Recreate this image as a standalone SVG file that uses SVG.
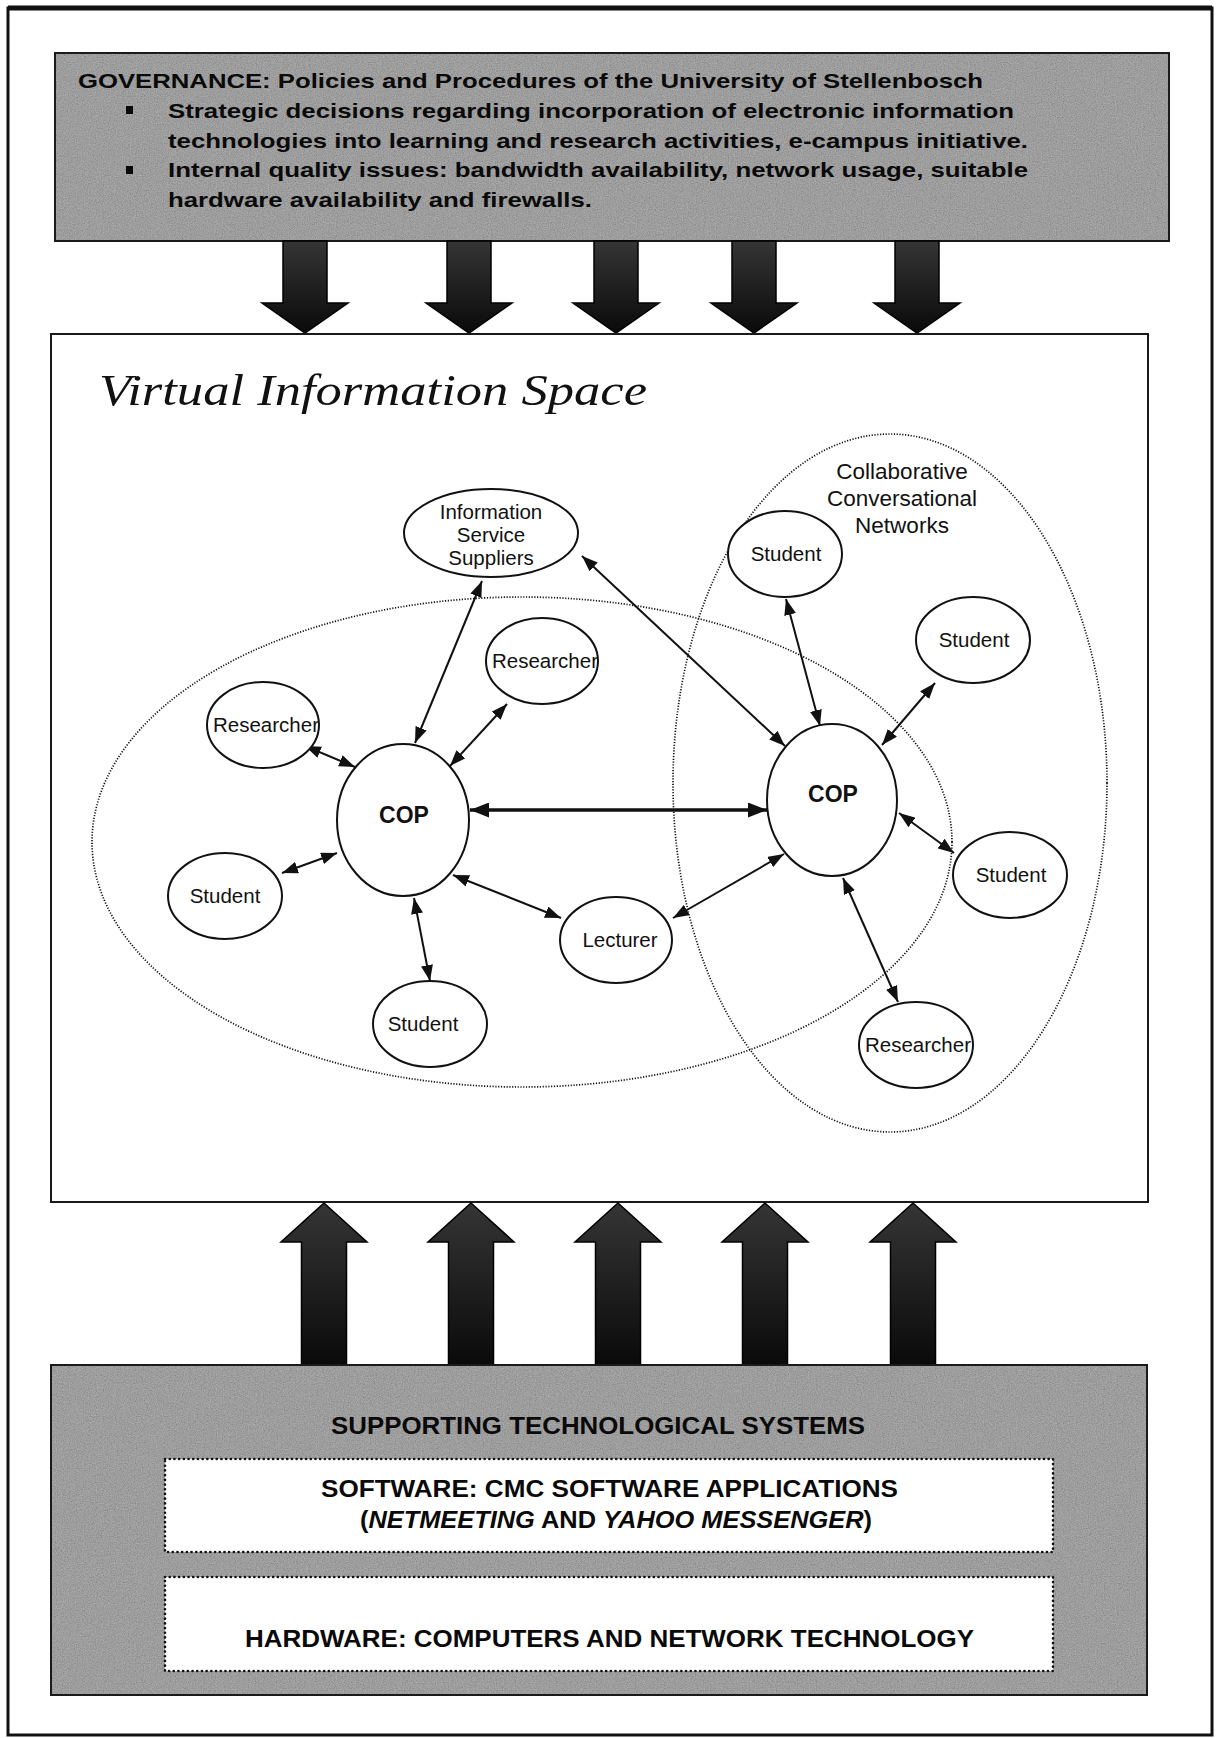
<svg xmlns="http://www.w3.org/2000/svg" width="1221" height="1738" viewBox="0 0 1221 1738">
  <style>
    .panel-grey { fill: #858585; stroke: #1a1a1a; stroke-width: 2; }
    .panel-white { fill: #ffffff; stroke: #1a1a1a; stroke-width: 2; }
    .dotbox { fill: #ffffff; stroke: #111; stroke-width: 2.6; stroke-dasharray: 0.1 4.6; stroke-linecap: round; }
    .group-ring { fill: none; stroke: #111; stroke-width: 1.7; stroke-dasharray: 1.2 1.6; }
    .node { fill: #ffffff; stroke: #111; stroke-width: 2; }
    .lbl { font-family: "Liberation Sans", Arial, sans-serif; font-size: 20.5px; fill: #111; text-anchor: middle; }
    .cop { font-family: "Liberation Sans", Arial, sans-serif; font-size: 23px; font-weight: bold; fill: #111; text-anchor: middle; }
    .ccn { font-family: "Liberation Sans", Arial, sans-serif; font-size: 22.5px; fill: #111; text-anchor: middle; }
    .gov { font-family: "Liberation Sans", Arial, sans-serif; font-size: 21px; font-weight: bold; fill: #0a0a0a; }
    .sys { font-family: "Liberation Sans", Arial, sans-serif; font-size: 23px; font-weight: bold; fill: #0a0a0a; }
    .title { font-family: "Liberation Serif", "DejaVu Serif", serif; font-style: italic; font-size: 45px; fill: #111; }
    .link { fill: none; stroke: #111; stroke-width: 2; marker-start: url(#tip); marker-end: url(#tip); }
    .link-main { fill: none; stroke: #111; stroke-width: 3.5; marker-start: url(#tipBig); marker-end: url(#tipBig); }
    .block { fill: url(#blockFill); stroke: #000; stroke-width: 1.5; }
  </style>
  <defs>
    <marker id="tip" viewBox="0 0 16 12" refX="16" refY="6" markerWidth="16" markerHeight="12" markerUnits="userSpaceOnUse" orient="auto-start-reverse">
      <path d="M0,0 L16,6 L0,12 z" fill="#111"/>
    </marker>
    <marker id="tipBig" viewBox="0 0 19 15" refX="19" refY="7.5" markerWidth="19" markerHeight="15" markerUnits="userSpaceOnUse" orient="auto-start-reverse">
      <path d="M0,0 L19,7.5 L0,15 z" fill="#111"/>
    </marker>
    <linearGradient id="blockFill" x1="0" y1="0" x2="0" y2="1">
      <stop offset="0" stop-color="#353535"/>
      <stop offset="1" stop-color="#0a0a0a"/>
    </linearGradient>
    <filter id="grain" x="0" y="0" width="100%" height="100%">
      <feTurbulence type="fractalNoise" baseFrequency="0.85" numOctaves="2" seed="11" result="noise"/>
      <feColorMatrix in="noise" type="saturate" values="0" result="grey"/>
      <feComponentTransfer in="grey" result="soft">
        <feFuncA type="table" tableValues="0.45 0.45"/>
      </feComponentTransfer>
      <feComposite in="soft" in2="SourceGraphic" operator="in"/>
    </filter>
    <g id="downArrow">
      <path d="M-22,0 H22 V62 H43 L0,92 L-43,62 H-22 Z"/>
    </g>
    <g id="upArrow">
      <path d="M0,0 L43,39 H22.5 V162 H-22.5 V39 H-43 Z"/>
    </g>
  </defs>

  <!-- page -->
  <rect x="0" y="0" width="1221" height="1738" fill="#ffffff"/>
  <rect x="8" y="8" width="1204" height="1727" fill="none" stroke="#111" stroke-width="3"/>
  <line x1="8" y1="8" x2="1212" y2="8" stroke="#111" stroke-width="5"/>

  <!-- governance panel -->
  <g id="governance">
    <rect class="panel-grey" x="55" y="53" width="1114" height="188"/>
    <rect x="56" y="54" width="1112" height="186" fill="#7a7a7a" filter="url(#grain)"/>
    <text class="gov" x="78" y="88" textLength="905" lengthAdjust="spacingAndGlyphs">GOVERNANCE: Policies and Procedures of the University of Stellenbosch</text>
    <rect x="126" y="106" width="7" height="8" fill="#0a0a0a"/>
    <text class="gov" x="168" y="118" textLength="846" lengthAdjust="spacingAndGlyphs">Strategic decisions regarding incorporation of electronic information</text>
    <text class="gov" x="168" y="148" textLength="860" lengthAdjust="spacingAndGlyphs">technologies into learning and research activities, e-campus initiative.</text>
    <rect x="126" y="166" width="7" height="8" fill="#0a0a0a"/>
    <text class="gov" x="168" y="177" textLength="860" lengthAdjust="spacingAndGlyphs">Internal quality issues: bandwidth availability, network usage, suitable</text>
    <text class="gov" x="168" y="207" textLength="424" lengthAdjust="spacingAndGlyphs">hardware availability and firewalls.</text>
  </g>

  <!-- block arrows from governance down into the space -->
  <g id="governance-arrows" class="block">
    <use href="#downArrow" transform="translate(305,241)"/>
    <use href="#downArrow" transform="translate(469,241)"/>
    <use href="#downArrow" transform="translate(616,241)"/>
    <use href="#downArrow" transform="translate(754,241)"/>
    <use href="#downArrow" transform="translate(917,241)"/>
  </g>

  <!-- virtual information space -->
  <g id="virtual-space">
    <rect class="panel-white" x="51" y="334" width="1097" height="868"/>
    <text class="title" x="99" y="405" textLength="548" lengthAdjust="spacingAndGlyphs">Virtual Information Space</text>
  </g>

  <!-- dotted group boundaries -->
  <g id="communities">
    <ellipse class="group-ring" cx="522" cy="842" rx="430" ry="245"/>
    <ellipse class="group-ring" cx="890" cy="783" rx="217" ry="349"/>
    <text class="ccn" x="902" y="479">Collaborative</text>
    <text class="ccn" x="902" y="506">Conversational</text>
    <text class="ccn" x="902" y="533">Networks</text>
  </g>

  <!-- connectors -->
  <g id="connectors">
    <line class="link" x1="482" y1="581" x2="415" y2="743"/>
    <line class="link" x1="507" y1="704" x2="450" y2="766"/>
    <line class="link" x1="305" y1="746" x2="355" y2="767"/>
    <line class="link" x1="282" y1="873" x2="337" y2="853"/>
    <line class="link" x1="414" y1="898" x2="430" y2="981"/>
    <line class="link" x1="453" y1="875" x2="561" y2="918"/>
    <line class="link-main" x1="470" y1="810" x2="767" y2="810"/>
    <line class="link" x1="673" y1="918" x2="784" y2="854"/>
    <line class="link" x1="582" y1="556" x2="785" y2="746"/>
    <line class="link" x1="786" y1="599" x2="820" y2="726"/>
    <line class="link" x1="935" y1="683" x2="882" y2="745"/>
    <line class="link" x1="899" y1="813" x2="954" y2="853"/>
    <line class="link" x1="843" y1="878" x2="898" y2="1002"/>
  </g>

  <!-- nodes -->
  <g id="node-info-suppliers">
    <ellipse class="node" cx="491" cy="533" rx="87" ry="44"/>
    <text class="lbl" x="491" y="519">Information</text>
    <text class="lbl" x="491" y="542">Service</text>
    <text class="lbl" x="491" y="565">Suppliers</text>
  </g>
  <g id="node-researcher-top">
    <ellipse class="node" cx="542" cy="661" rx="56" ry="43"/>
    <text class="lbl" x="545" y="668">Researcher</text>
  </g>
  <g id="node-researcher-left">
    <ellipse class="node" cx="263" cy="725" rx="56" ry="43"/>
    <text class="lbl" x="266" y="732">Researcher</text>
  </g>
  <g id="node-cop-left">
    <ellipse class="node" cx="403" cy="820" rx="66" ry="76"/>
    <text class="cop" x="404" y="823">COP</text>
  </g>
  <g id="node-student-left">
    <ellipse class="node" cx="225" cy="896" rx="57" ry="43"/>
    <text class="lbl" x="225" y="903">Student</text>
  </g>
  <g id="node-student-bottom">
    <ellipse class="node" cx="430" cy="1024" rx="57" ry="43"/>
    <text class="lbl" x="423" y="1031">Student</text>
  </g>
  <g id="node-lecturer">
    <ellipse class="node" cx="616" cy="940" rx="56" ry="43"/>
    <text class="lbl" x="620" y="947">Lecturer</text>
  </g>
  <g id="node-cop-right">
    <ellipse class="node" cx="832" cy="800" rx="65" ry="76"/>
    <text class="cop" x="833" y="802">COP</text>
  </g>
  <g id="node-student-ccn-top">
    <ellipse class="node" cx="785" cy="554" rx="57" ry="43"/>
    <text class="lbl" x="786" y="561">Student</text>
  </g>
  <g id="node-student-ccn-upper">
    <ellipse class="node" cx="973" cy="640" rx="57" ry="43"/>
    <text class="lbl" x="974" y="647">Student</text>
  </g>
  <g id="node-student-ccn-right">
    <ellipse class="node" cx="1010" cy="875" rx="57" ry="43"/>
    <text class="lbl" x="1011" y="882">Student</text>
  </g>
  <g id="node-researcher-ccn">
    <ellipse class="node" cx="916" cy="1045" rx="57" ry="43"/>
    <text class="lbl" x="918" y="1052">Researcher</text>
  </g>

  <!-- block arrows from the technology base up into the space -->
  <g id="support-arrows" class="block">
    <use href="#upArrow" transform="translate(324,1203)"/>
    <use href="#upArrow" transform="translate(471,1203)"/>
    <use href="#upArrow" transform="translate(618,1203)"/>
    <use href="#upArrow" transform="translate(765,1203)"/>
    <use href="#upArrow" transform="translate(913,1203)"/>
  </g>

  <!-- supporting technological systems -->
  <g id="supporting-systems">
    <rect class="panel-grey" x="51" y="1365" width="1096" height="330"/>
    <rect x="52" y="1366" width="1094" height="328" fill="#7a7a7a" filter="url(#grain)"/>
    <text class="sys" x="331" y="1434" textLength="534" lengthAdjust="spacingAndGlyphs">SUPPORTING TECHNOLOGICAL SYSTEMS</text>
  </g>
  <g id="software-layer">
    <rect class="dotbox" x="165" y="1459" width="888" height="93"/>
    <text class="sys" x="321" y="1497" textLength="577" lengthAdjust="spacingAndGlyphs">SOFTWARE: CMC SOFTWARE APPLICATIONS</text>
    <text class="sys" x="360" y="1528" textLength="512" lengthAdjust="spacingAndGlyphs">(<tspan font-style="italic">NETMEETING</tspan> AND <tspan font-style="italic">YAHOO MESSENGER</tspan>)</text>
  </g>
  <g id="hardware-layer">
    <rect class="dotbox" x="165" y="1577" width="888" height="94"/>
    <text class="sys" x="245" y="1647" textLength="729" lengthAdjust="spacingAndGlyphs">HARDWARE: COMPUTERS AND NETWORK TECHNOLOGY</text>
  </g>
</svg>
